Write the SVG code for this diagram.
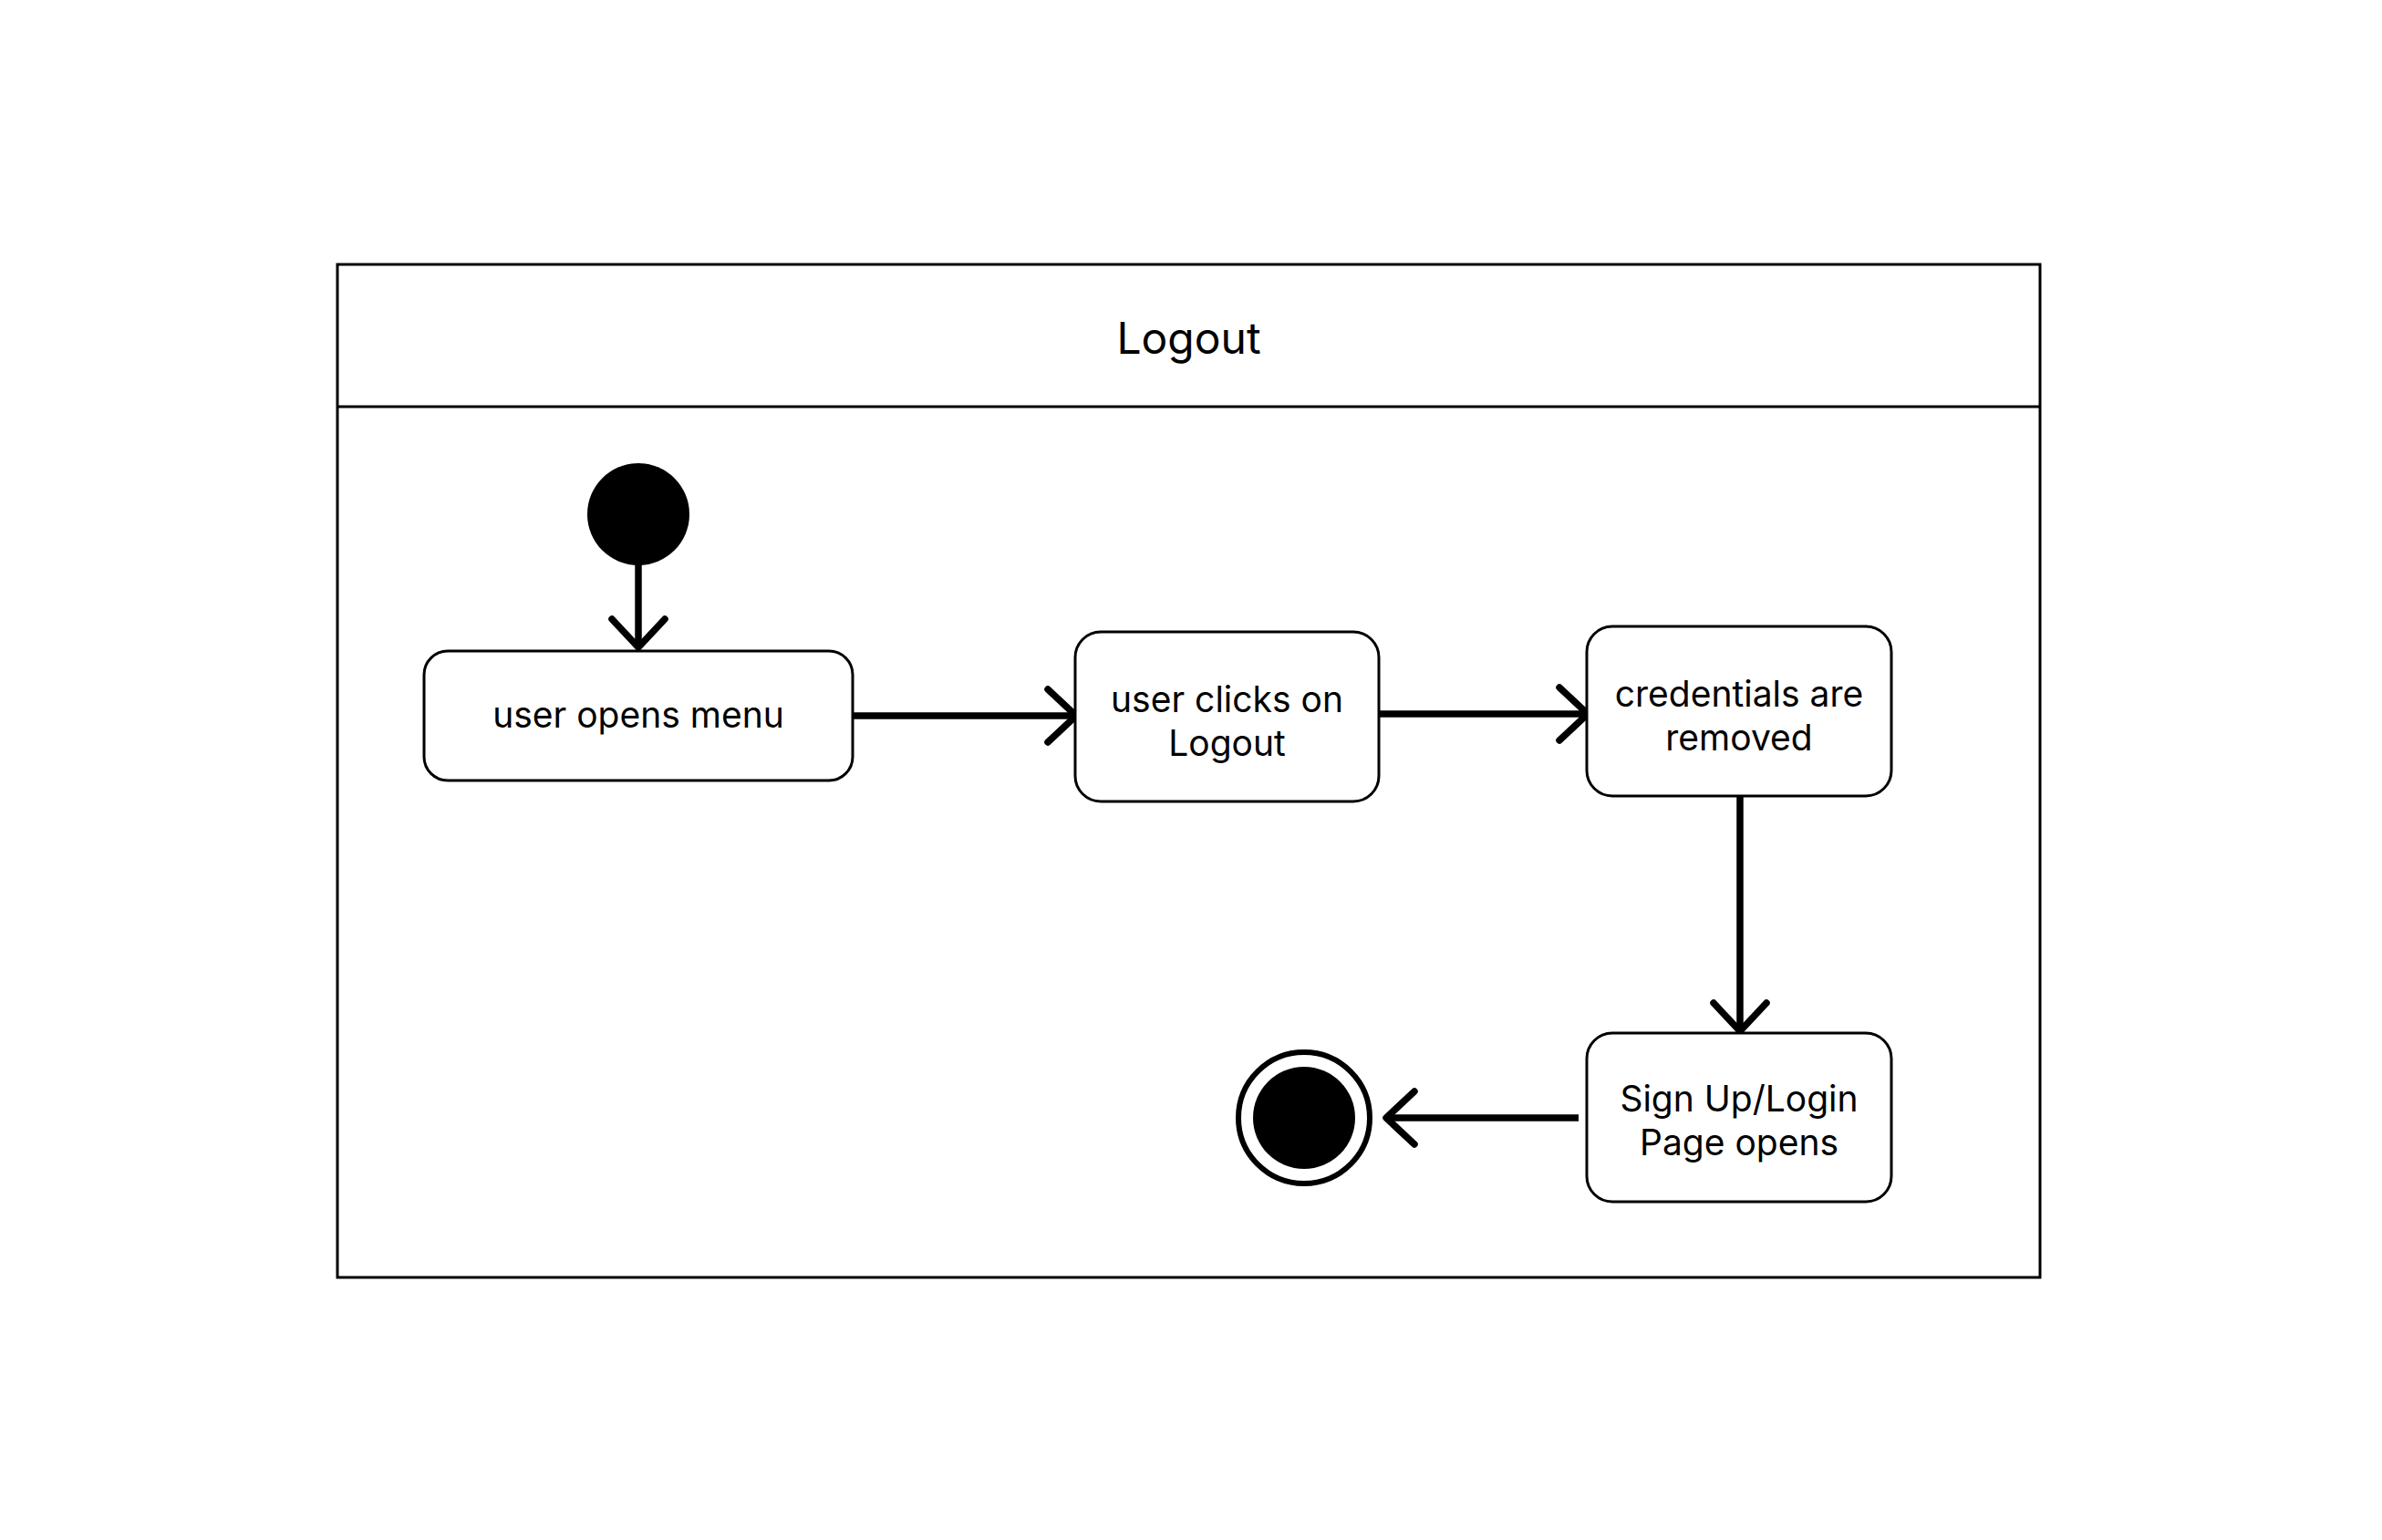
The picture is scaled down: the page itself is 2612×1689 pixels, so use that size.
<svg xmlns="http://www.w3.org/2000/svg" width="2612" height="1689" viewBox="0 0 2612 1689">
  <style>
    .frame { fill: #ffffff; stroke: #000000; stroke-width: 3; }
    .action { fill: #ffffff; stroke: #000000; stroke-width: 3; }
    .edge { fill: none; stroke: #000000; stroke-width: 7.5; }
    .head { fill: none; stroke: #000000; stroke-width: 7.5; stroke-linecap: round; stroke-linejoin: round; }
    .label { font-family: "Inter", "Liberation Sans", sans-serif; font-size: 39px; fill: #000000; text-anchor: middle; }
    .title { font-family: "Inter", "Liberation Sans", sans-serif; font-size: 48px; fill: #000000; text-anchor: middle; }
  </style>
  <defs>
    <marker id="open-arrow" markerUnits="userSpaceOnUse" markerWidth="80" markerHeight="80" viewBox="-40 -40 80 80" refX="0" refY="0" orient="auto" overflow="visible">
      <path class="head" d="M -31 -29 L 0 0 L -31 29"/>
    </marker>
  </defs>

  <rect width="2612" height="1689" fill="#ffffff"/>

  <!-- activity frame -->
  <g id="frame">
    <rect class="frame" x="370" y="290" width="1867" height="1111"/>
    <line x1="370" y1="446" x2="2237" y2="446" stroke="#000000" stroke-width="3"/>
    <text class="title" x="1303.5" y="388">Logout</text>
  </g>

  <!-- transitions -->
  <g id="connectors">
    <path class="edge" d="M 700 618 L 700 710" marker-end="url(#open-arrow)"/>
    <path class="edge" d="M 935 785 L 1180 785" marker-end="url(#open-arrow)"/>
    <path class="edge" d="M 1512 783 L 1741 783" marker-end="url(#open-arrow)"/>
    <path class="edge" d="M 1908 873 L 1908 1131" marker-end="url(#open-arrow)"/>
    <path class="edge" d="M 1731 1226 L 1520 1226" marker-end="url(#open-arrow)"/>
  </g>

  <g id="start">
    <circle cx="700" cy="564" r="56" fill="#000000"/>
  </g>

  <g id="open-menu">
    <rect class="action" x="465" y="714" width="470" height="142" rx="26"/>
    <text class="label" x="700" y="798">user opens menu</text>
  </g>

  <g id="click-logout">
    <rect class="action" x="1179" y="693" width="333" height="186" rx="28"/>
    <text class="label" x="1345.5" y="781">user clicks on</text>
    <text class="label" x="1345.5" y="829">Logout</text>
  </g>

  <g id="remove-credentials">
    <rect class="action" x="1740" y="687" width="334" height="186" rx="28"/>
    <text class="label" x="1907" y="775">credentials are</text>
    <text class="label" x="1907" y="823">removed</text>
  </g>

  <g id="login-page">
    <rect class="action" x="1740" y="1133" width="334" height="185" rx="28"/>
    <text class="label" x="1907" y="1219">Sign Up/Login</text>
    <text class="label" x="1907" y="1267">Page opens</text>
  </g>

  <g id="end">
    <circle cx="1430" cy="1226" r="72" fill="#ffffff" stroke="#000000" stroke-width="6"/>
    <circle cx="1430" cy="1226" r="56" fill="#000000"/>
  </g>
</svg>
